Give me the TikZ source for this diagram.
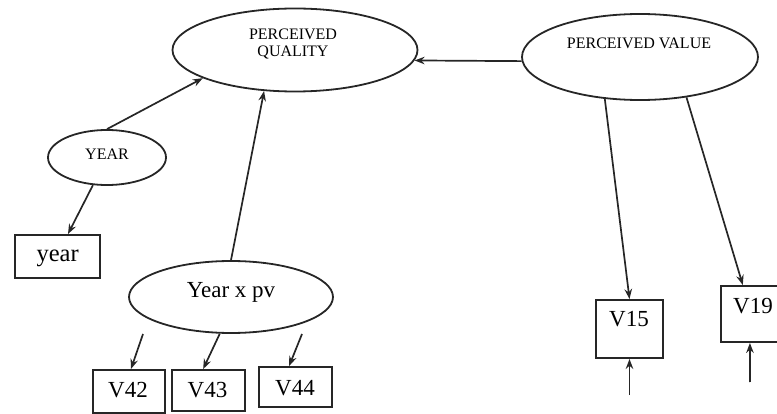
\documentclass[tikz,border=0pt]{standalone}
\usepackage{fontspec}
\setmainfont{Liberation Serif}
\usetikzlibrary{shapes.geometric,arrows.meta}
\begin{document}
\begin{tikzpicture}[x=1pt,y=-1pt,
  ell/.style={draw=black!85,ellipse,line width=1.8pt,inner sep=0pt},
  box/.style={draw=black!85,rectangle,line width=1.9pt,inner sep=0pt},
  arr/.style={draw=black!85,line width=1.7pt,-{Stealth[length=10pt,width=7.5pt]}},
  small/.style={font=\fontsize{16}{17}\selectfont},
  big/.style={font=\fontsize{23}{25}\selectfont},
  bigger/.style={font=\fontsize{24.5}{26}\selectfont}]
\clip (0,0) rectangle (777,414);
% ellipses
\node[ell,minimum width=245pt,minimum height=83pt] (pq) at (295,50) {};
\node[small,align=center] (pqt) at (293,44.5) {PERCEIVED\\QUALITY};
\node[ell,minimum width=236pt,minimum height=86pt] (pv) at (640,57) {};
\node[small,anchor=base] (pvt) at (639,48.3) {PERCEIVED VALUE};
\node[ell,minimum width=118pt,minimum height=55pt] (yr) at (107,157.5) {};
\node[small,anchor=base] (yrt) at (107,159.3) {YEAR};
\node[ell,minimum width=204pt,minimum height=72pt] (ypv) at (231,297) {};
\node[big,anchor=base] (ypvt) at (231,298) {Year x pv};
% boxes
\node[box,minimum width=85pt,minimum height=43pt] (ybox) at (57.5,256.5) {};
\node[bigger,anchor=base] (yboxt) at (57.7,261.7) {year};
\node[box,minimum width=72pt,minimum height=43pt] (v42) at (129,391.5) {};
\node[big,anchor=base] (v42t) at (128,397.5) {V42};
\node[box,minimum width=73pt,minimum height=41pt] (v43) at (208.5,390.5) {};
\node[big,anchor=base] (v43t) at (207.5,397.3) {V43};
\node[box,minimum width=73pt,minimum height=40pt] (v44) at (295.5,387) {};
\node[big,anchor=base] (v44t) at (295,395) {V44};
\node[box,minimum width=67pt,minimum height=58pt] (v15) at (629.5,329) {};
\node[big,anchor=base] (v15t) at (629,326.7) {V15};
\node[box,minimum width=67pt,minimum height=56pt] (v19) at (754.5,314) {};
\node[big,anchor=base] (v19t) at (753,314) {V19};
% free ends
\coordinate (a42) at (143,334);
\coordinate (a44) at (302,334);
\coordinate (e15) at (629.5,395);
\coordinate (e19) at (750,382);
% connectors
\draw[arr] (pv.182) -- (pq.-5);
\draw[arr] (yr.north) -- (pq.197);
\draw[arr] (ypv.north) -- (pq.233);
\draw[arr] (yr.243) -- (ybox.65);
\draw[arr] (pv.230) -- (v15.north);
\draw[arr] (pv.319) -- (v19.112);
\draw[arr] (e15) -- (v15.south);
\draw[arr] (e19) -- (v19.261);
\draw[arr] (a42) -- (v42.85);
\draw[arr] (ypv.253) -- (v43.104);
\draw[arr] (a44) -- (v44.107);
\end{tikzpicture}
\end{document}
